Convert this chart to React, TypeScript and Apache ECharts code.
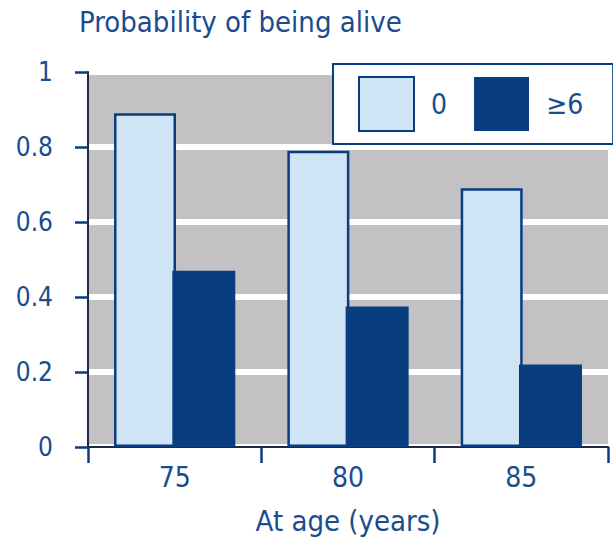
import React, { useEffect, useRef } from "react";
import * as echarts from "echarts";

const categories = ["75", "80", "85"];
const seriesNames = ["0", "≥6"];
const valuesZero = [0.89, 0.79, 0.69];
const valuesSixPlus = [0.47, 0.375, 0.22];

const FONT = "'DejaVu Sans Condensed', 'Liberation Sans Narrow', sans-serif";
const TEXT = "#1b4c8c";
const DARK = "#0a3d80";
const LIGHT = "#cfe5f5";

export default function App() {
  const ref = useRef<HTMLDivElement>(null);
  useEffect(() => {
    if (!ref.current) return;
    const chart = echarts.init(ref.current, null, { renderer: "svg" });
    chart.setOption({
      animation: false,
      backgroundColor: "#ffffff",
      title: {
        text: "Probability of being alive",
        left: 74,
        top: 2,
        textStyle: { fontFamily: FONT, fontSize: 29, fontWeight: "normal", color: TEXT },
      },
      legend: {
        left: 333,
        top: 64,
        data: seriesNames,
        icon: "rect",
        itemWidth: 55,
        itemHeight: 54,
        itemGap: 27,
        backgroundColor: "#ffffff",
        borderColor: DARK,
        borderWidth: 2,
        padding: [12, 30, 12, 25],
        textStyle: { fontFamily: FONT, fontSize: 28, color: TEXT, padding: [0, 0, 0, 12] },
      },
      grid: {
        left: 88,
        right: 5,
        top: 72,
        bottom: 93,
        show: true,
        containLabel: false,
        outerBoundsMode: "none",
        backgroundColor: "#c2c2c4",
        borderWidth: 0,
      },
      xAxis: {
        type: "category",
        data: categories,
        name: "At age (years)",
        nameLocation: "middle",
        nameGap: 59,
        nameTextStyle: { fontFamily: FONT, fontSize: 29, color: TEXT },
        axisLine: { show: true, lineStyle: { color: "#1c2a44", width: 2 } },
        axisTick: { show: true, length: 16, lineStyle: { color: DARK, width: 2.5 } },
        axisLabel: { fontFamily: FONT, fontSize: 28, color: TEXT, margin: 16 },
        splitLine: { show: false },
      },
      yAxis: {
        type: "value",
        min: 0,
        max: 1,
        interval: 0.2,
        axisLine: { show: true, lineStyle: { color: "#1c2a44", width: 2 } },
        axisTick: { show: true, length: 13, lineStyle: { color: DARK, width: 2.5 } },
        axisLabel: { fontFamily: FONT, fontSize: 26, color: TEXT, margin: 35 },
        splitLine: { show: true, lineStyle: { color: "#ffffff", width: 6 } },
      },
      series: [
        {
          name: seriesNames[0],
          type: "bar",
          data: valuesZero,
          barWidth: 62,
          barGap: "-6%",
          itemStyle: { color: LIGHT, borderColor: DARK, borderWidth: 2.5 },
        },
        {
          name: seriesNames[1],
          type: "bar",
          data: valuesSixPlus,
          barWidth: 63,
          itemStyle: { color: DARK },
        },
      ],
    });
    return () => chart.dispose();
  }, []);
  return (
    <div
      ref={ref}
      style={{ position: "fixed", left: 0, top: 0, width: 613, height: 540 }}
    />
  );
}
